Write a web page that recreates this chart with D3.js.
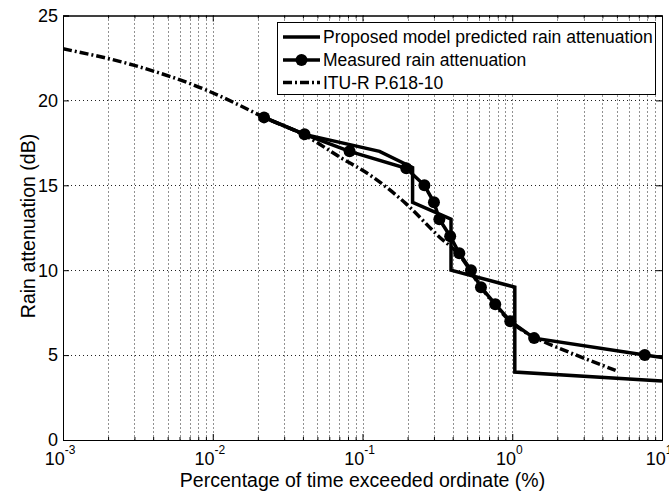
<!DOCTYPE html>
<html>
<head>
<meta charset="utf-8">
<script src="https://cdn.jsdelivr.net/npm/d3@7"></script>
<style>
  body { margin: 0; background: #fff; }
  svg { display: block; font-family: "Liberation Sans", Arial, sans-serif; }
</style>
</head>
<body>
<svg width="669" height="495"></svg>
<script>
// data
const measuredPct = [0.022, 0.041, 0.082, 0.196, 0.259, 0.30, 0.326, 0.385, 0.443, 0.53, 0.618, 0.77, 0.97, 1.40, 7.67, 12];
const measuredDb  = [19, 18, 17, 16, 15, 14, 13, 12, 11, 10, 9, 8, 7, 6, 5, 4.76];

const proposedPct = [0.022, 0.041, 0.13, 0.216, 0.216, 0.39, 0.39, 1.04, 1.04, 10];
const proposedDb  = [19, 18, 17, 16.05, 14.0, 13.0, 10.0, 9.0, 4.0, 3.47];

const ituPct = [0.001, 0.003, 0.0091, 0.0144, 0.022, 0.041, 0.0703, 0.117, 0.195, 0.326, 0.443, 0.618, 0.97, 1.63, 1.95, 4.9];
const ituDb  = [23.04, 22.06, 20.6, 19.8, 19.0, 17.95, 16.67, 15.49, 13.92, 11.96, 10.9, 9.0, 7.0, 5.78, 5.49, 4.1];

const xMajor = [1e-3, 1e-2, 1e-1, 1, 10];
const xExp = ["-3", "-2", "-1", "0", "1"];
const yTicks = [0, 5, 10, 15, 20, 25];

const legendLabels = ["Proposed model predicted rain attenuation", "Measured rain attenuation", "ITU-R P.618-10"];

const svg = d3.select("svg");
const pLeft = 63, pRight = 662, pTop = 15.5, pBottom = 440;

const x = d3.scaleLog().domain([1e-3, 10]).range([pLeft, pRight]);
const y = d3.scaleLinear().domain([0, 25]).range([pBottom, pTop]);

// minor x ticks 2..9 of each decade
const xMinor = [];
for (let e = -3; e < 1; e++) {
  for (let k = 2; k <= 9; k++) xMinor.push(k * Math.pow(10, e));
}

// grid
const grid = svg.append("g").attr("stroke", "#222").attr("stroke-width", 1).attr("stroke-dasharray", "1,3");
grid.selectAll(".vg").data(xMinor.concat(xMajor.slice(1, -1))).enter().append("line")
  .attr("x1", d => Math.round(x(d)) + 0.5).attr("x2", d => Math.round(x(d)) + 0.5)
  .attr("y1", pTop).attr("y2", pBottom);
grid.selectAll(".hg").data(yTicks.slice(1, -1)).enter().append("line")
  .attr("x1", pLeft).attr("x2", pRight)
  .attr("y1", d => Math.round(y(d)) + 0.5).attr("y2", d => Math.round(y(d)) + 0.5);

// axes, ticks inward on all four sides
svg.append("g").attr("transform", `translate(0,${pBottom})`)
  .call(d3.axisBottom(x).tickValues(xMajor).tickSize(-6).tickFormat(""));
svg.append("g").attr("transform", `translate(0,${pBottom})`)
  .call(d3.axisBottom(x).tickValues(xMinor).tickSize(-3).tickFormat(""));
svg.append("g").attr("transform", `translate(0,${pTop})`)
  .call(d3.axisTop(x).tickValues(xMajor).tickSize(-6).tickFormat(""));
svg.append("g").attr("transform", `translate(0,${pTop})`)
  .call(d3.axisTop(x).tickValues(xMinor).tickSize(-3).tickFormat(""));
svg.append("g").attr("transform", `translate(${pLeft},0)`)
  .call(d3.axisLeft(y).tickValues(yTicks).tickSize(-6).tickFormat(""));
svg.append("g").attr("transform", `translate(${pRight},0)`)
  .call(d3.axisRight(y).tickValues(yTicks).tickSize(-6).tickFormat(""));
svg.selectAll(".domain").attr("stroke", "#000");
svg.selectAll(".tick line").attr("stroke", "#000");

// tick labels
svg.selectAll(".ylab").data(yTicks).enter().append("text")
  .attr("x", 58).attr("y", d => y(d)).attr("dy", "0.35em")
  .attr("text-anchor", "end").attr("font-size", 18).text(d => d);

const xl = svg.selectAll(".xlab").data(xMajor).enter().append("text")
  .attr("x", (d, i) => x(d) - 3).attr("y", 465)
  .attr("text-anchor", "middle").attr("font-size", 18);
xl.append("tspan").text("10");
xl.append("tspan").attr("dy", -11).attr("font-size", 12).text((d, i) => xExp[i]);

// axis titles
svg.append("text").attr("x", (pLeft + pRight) / 2).attr("y", 487)
  .attr("text-anchor", "middle").attr("font-size", 19.5)
  .text("Percentage of time exceeded ordinate (%)");
svg.append("text").attr("transform", "translate(35,226) rotate(-90)")
  .attr("text-anchor", "middle").attr("font-size", 19.5)
  .text("Rain attenuation (dB)");

// lines
svg.append("clipPath").attr("id", "clip").append("rect")
  .attr("x", pLeft).attr("y", pTop).attr("width", pRight - pLeft).attr("height", pBottom - pTop);
const plot = svg.append("g").attr("clip-path", "url(#clip)");

const line = d3.line().x(d => x(d[0])).y(d => y(d[1]));
const ituLine = d3.line().x(d => x(d[0])).y(d => y(d[1])).curve(d3.curveMonotoneX);

plot.append("path").datum(d3.zip(ituPct, ituDb))
  .attr("d", ituLine).attr("fill", "none").attr("stroke", "#000")
  .attr("stroke-width", 3.5).attr("stroke-dasharray", "9,3,2,3");

plot.append("path").datum(d3.zip(proposedPct, proposedDb))
  .attr("d", line).attr("fill", "none").attr("stroke", "#000")
  .attr("stroke-width", 3.5).attr("stroke-linejoin", "miter");

const meas = d3.zip(measuredPct, measuredDb);
plot.append("path").datum(meas)
  .attr("d", line).attr("fill", "none").attr("stroke", "#000").attr("stroke-width", 3.5);
plot.selectAll(".dot").data(meas).enter().append("circle")
  .attr("cx", d => x(d[0])).attr("cy", d => y(d[1])).attr("r", 6).attr("fill", "#000");

// legend
const lg = svg.append("g");
lg.append("rect").attr("x", 277.5).attr("y", 22.5).attr("width", 378).attr("height", 72)
  .attr("fill", "#fff").attr("stroke", "#000");
const rows = [37, 60, 82.5];
legendLabels.forEach((t, i) => {
  const ly = rows[i];
  lg.append("line").attr("x1", 283).attr("x2", 320).attr("y1", ly).attr("y2", ly)
    .attr("stroke", "#000").attr("stroke-width", 3.5)
    .attr("stroke-dasharray", i === 2 ? "9,3,2,3" : null);
  if (i === 1) lg.append("circle").attr("cx", 301.5).attr("cy", ly).attr("r", 6).attr("fill", "#000");
  lg.append("text").attr("x", 323).attr("y", ly).attr("dy", "0.35em")
    .attr("font-size", 17.5).text(t);
});
</script>
</body>
</html>
